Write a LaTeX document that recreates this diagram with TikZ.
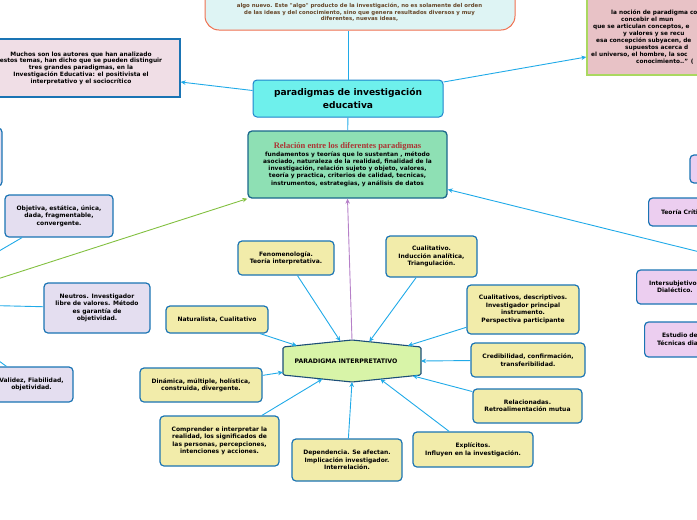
\documentclass[tikz,border=0pt]{standalone}
\usepackage{fontspec}
\usepackage{xcolor}
\usepackage{tikz}
\usetikzlibrary{arrows.meta,calc}

\newfontfamily\mapfont{DejaVu Sans}
\newfontfamily\headfont{Liberation Serif}

\definecolor{linkblue}{RGB}{32,170,232}
\definecolor{boxblue}{RGB}{26,116,180}
\definecolor{yellowfill}{RGB}{242,236,170}
\definecolor{lavfill}{RGB}{228,222,240}
\definecolor{orchidfill}{RGB}{236,206,240}
\definecolor{rosefill}{RGB}{240,222,230}
\definecolor{quotefill}{RGB}{232,194,198}
\definecolor{quoteedge}{RGB}{170,216,96}
\definecolor{titlefill}{RGB}{110,240,236}
\definecolor{titleedge}{RGB}{30,132,204}
\definecolor{mintfill}{RGB}{142,224,180}
\definecolor{mintedge}{RGB}{26,104,140}
\definecolor{hexfill}{RGB}{216,244,168}
\definecolor{hexedge}{RGB}{28,78,120}
\definecolor{originfill}{RGB}{222,244,244}
\definecolor{originedge}{RGB}{240,112,80}
\definecolor{originink}{RGB}{102,70,40}
\definecolor{relred}{RGB}{172,52,52}
\definecolor{greenarrow}{RGB}{130,192,64}
\definecolor{purplearrow}{RGB}{182,128,200}

\tikzset{
  boxsize/.style 2 args={minimum width=#1pt, minimum height=#2pt},
  mapbox/.style={draw=boxblue, line width=1.2pt, rounded corners=4pt, align=center, inner sep=1.5pt,
    font=\mapfont\bfseries\fontsize{6}{7.5}\selectfont},
  yellowbox/.style={mapbox, fill=yellowfill},
  lavbox/.style={mapbox, fill=lavfill},
  orchidbox/.style={mapbox, fill=orchidfill},
  link/.style={draw=linkblue, line width=0.9pt},
  tolink/.style={link, -{Stealth[length=5pt, width=4.5pt]}},
}

\begin{document}
\begin{tikzpicture}[x=1pt, y=-1pt]
  \path[use as bounding box, clip] (0,0) rectangle (697,520);

  % notes round the title
  \node[draw=originedge, fill=originfill, line width=1pt, rounded corners=14pt, boxsize={310}{60}] (origin) at (360,0) {};
  \node[font=\mapfont\bfseries\fontsize{5.4}{6.6}\selectfont, text=originink, align=center] (origintext) at (359.5,12.3)
    {algo nuevo. Este "algo" producto de la investigación, no es solamente del orden\\de las ideas y del conocimiento, sino que genera resultados diversos y muy\\diferentes, nuevas ideas,};

  \node[draw=quoteedge, fill=quotefill, line width=1.5pt, boxsize={186}{90}] (quote) at (680,30) {};
  \node[font=\mapfont\bfseries\fontsize{5.8}{7}\selectfont, align=left, anchor=west, inner sep=0pt] (quotetext) at (590,37)
    {\hspace*{21pt}la noción de paradigma co\\ \hspace*{31pt}concebir el mun\\ \hspace*{3pt}que se articulan conceptos, e\\ \hspace*{33pt}y valores y se recu\\ \hspace*{6pt}esa concepción subyacen, de\\ \hspace*{35pt}supuestos acerca d\\ \hspace*{1pt}el universo, el hombre, la soc\\ \hspace*{46pt}conocimiento..” (};

  \node[draw=boxblue, fill=rosefill, line width=1.2pt, align=center, boxsize={198}{58},
    font=\mapfont\bfseries\fontsize{5.9}{6.8}\selectfont] (autores) at (81,68)
    {Muchos son los autores que han analizado\\estos temas, han dicho que se pueden distinguir\\tres grandes paradigmas, en la\\Investigación Educativa: el positivista el\\interpretativo y el sociocrítico};

  \node[draw=titleedge, fill=titlefill, line width=1pt, rounded corners=4pt, boxsize={190}{37}, align=center,
    font=\mapfont\bfseries\fontsize{9.1}{12.5}\selectfont] (paradigmas) at (348,98.5) {paradigmas de investigación\\educativa};

  \node[draw=mintedge, fill=mintfill, line width=1.3pt, rounded corners=4pt, boxsize={199}{67}, align=center,
    font=\mapfont\bfseries\fontsize{5.9}{7.3}\selectfont] (relacion) at (347.5,164.5)
    {{\headfont\bfseries\fontsize{8.5}{8.5}\selectfont\color{relred}Relación entre los diferentes paradigmas}\\[0.3pt]
     fundamentos y teorías que lo sustentan ,  método\\asociado, naturaleza de la realidad, finalidad de la\\investigación, relación sujeto y objeto, valores,\\teoría y practica, criterios de calidad, tecnicas,\\instrumentos, estrategias,  y análisis de datos};

  % left branch
  \node[lavbox, boxsize={102}{58}] (leftstub) at (-49,157) {};
  \node[lavbox, boxsize={108}{42}] (objetiva) at (59,216) {Objetiva, estática, única,\\dada, fragmentable,\\convergente.};
  \node[lavbox, boxsize={106}{50}] (neutros) at (97,308) {Neutros. Investigador\\libre de valores. Método\\es garantía de\\objetividad.};
  \node[lavbox, boxsize={83}{35}] (validez) at (31.5,384.5) {Validez, Fiabilidad,\\objetividad.};
  \coordinate (positivista) at (-20,284.6);
  \coordinate (posobj) at (-30,268);
  \coordinate (posneu) at (-30,305);
  \coordinate (posval) at (-30,340);

  % right branch
  \node[orchidbox, boxsize={70}{28}] (rightstub) at (725,169) {};
  \node[orchidbox, boxsize={70}{28}, anchor=west, text width=64pt, align=left] (critica) at (648,212) {\hspace*{9.5pt}Teoría Críti};
  \node[orchidbox, boxsize={80}{34}, anchor=west, text width=76pt, align=left] (intersubjetivo) at (636,287)
    {\hspace*{10.5pt}Intersubjetivo\\ \hspace*{18.5pt}Dialéctico.};
  \node[orchidbox, boxsize={96}{35}, anchor=west, text width=90pt, align=left] (estudio) at (644,339.5)
    {\hspace*{14.5pt}Estudio de\\ \hspace*{9.5pt}Técnicas dia};
  \coordinate (sociocritico) at (720,257);

  % interpretative branch
  \node[yellowbox, boxsize={96}{34}] (fenomenologia) at (286,258) {Fenomenología.\\Teoría interpretativa.};
  \node[yellowbox, boxsize={91}{41}] (cualitativo) at (431.5,256.5) {Cualitativo.\\Inducción analítica,\\Triangulación.};
  \node[yellowbox, boxsize={102}{27}] (naturalista) at (217,319.5) {Naturalista, Cualitativo};
  \node[yellowbox, boxsize={112}{49}] (descriptivos) at (523,309.5) {Cualitativos, descriptivos.\\Investigador principal\\instrumento.\\Perspectiva participante};
  \node[yellowbox, boxsize={114}{34}] (credibilidad) at (528,360) {Credibilidad, confirmación,\\transferibilidad.};
  \node[yellowbox, boxsize={122}{34}] (dinamica) at (201,385) {Dinámica, múltiple, holística,\\construida, divergente.};
  \node[yellowbox, boxsize={109}{34}] (relacionadas) at (527.5,406) {Relacionadas.\\Retroalimentación mutua};
  \node[yellowbox, boxsize={119}{50}] (comprender) at (219.5,441) {Comprender e interpretar la\\realidad, los significados de\\las personas, percepciones,\\intenciones y acciones.};
  \node[yellowbox, boxsize={110}{42}] (dependencia) at (347,460) {Dependencia. Se afectan.\\Implicación investigador.\\Interrelación.};
  \node[yellowbox, boxsize={120}{35}] (explicitos) at (473,449.5) {Explícitos.\\Influyen en la investigación.};

  \coordinate (hexnw) at (283,347);
  \coordinate (hextop) at (352,340);
  \coordinate (hexne) at (421,347);
  \coordinate (hexse) at (421,375);
  \coordinate (hexbot) at (352,382);
  \coordinate (hexsw) at (283,375);
  \draw[draw=hexedge, fill=hexfill, line width=1.1pt, rounded corners=1.5pt]
    (hexnw) -- (hextop) -- (hexne) -- (hexse) -- (hexbot) -- (hexsw) -- cycle;
  \node[font=\mapfont\bfseries\fontsize{6.2}{7}\selectfont] (interpretativo) at (346,361) {PARADIGMA INTERPRETATIVO};

  % connectors
  \draw[link] (paradigmas.north) -- (paradigmas.north |- origin.south);
  \draw[tolink] ([yshift=8pt]paradigmas.west) -- ([yshift=-14pt]autores.east);
  \draw[tolink] ([yshift=16.5pt]paradigmas.east) -- ([yshift=-27pt]quote.west);
  \draw[link] (paradigmas) -- (relacion);

  \draw[tolink, draw=greenarrow] (positivista) -- (relacion.south west);
  \draw[tolink, draw=purplearrow] (hextop) -- (relacion.south);
  \draw[tolink] (sociocritico) -- (relacion.-14);

  \draw[tolink] (objetiva) -- (posobj);
  \draw[tolink] (neutros) -- (posneu);
  \draw[tolink] (validez) -- (posval);

  \draw[tolink] (fenomenologia) -- ($(hexnw)!0.83!(hextop)$);
  \draw[tolink] (cualitativo) -- ($(hextop)!0.25!(hexne)$);
  \draw[tolink] (naturalista) -- ($(hexnw)!0.2!(hextop)$);
  \draw[tolink] (descriptivos) -- ($(hextop)!0.81!(hexne)$);
  \draw[tolink] (credibilidad) -- ($(hexne)!0.5!(hexse)$);
  \draw[tolink] (dinamica) -- ($(hexnw)!0.9!(hexsw)$);
  \draw[tolink] (relacionadas) -- ($(hexse)!0.12!(hexbot)$);
  \draw[tolink] (explicitos) -- ($(hexse)!0.59!(hexbot)$);
  \draw[tolink] (dependencia) -- (hexbot);
  \draw[tolink] (comprender) -- ($(hexbot)!0.43!(hexsw)$);
\end{tikzpicture}
\end{document}
